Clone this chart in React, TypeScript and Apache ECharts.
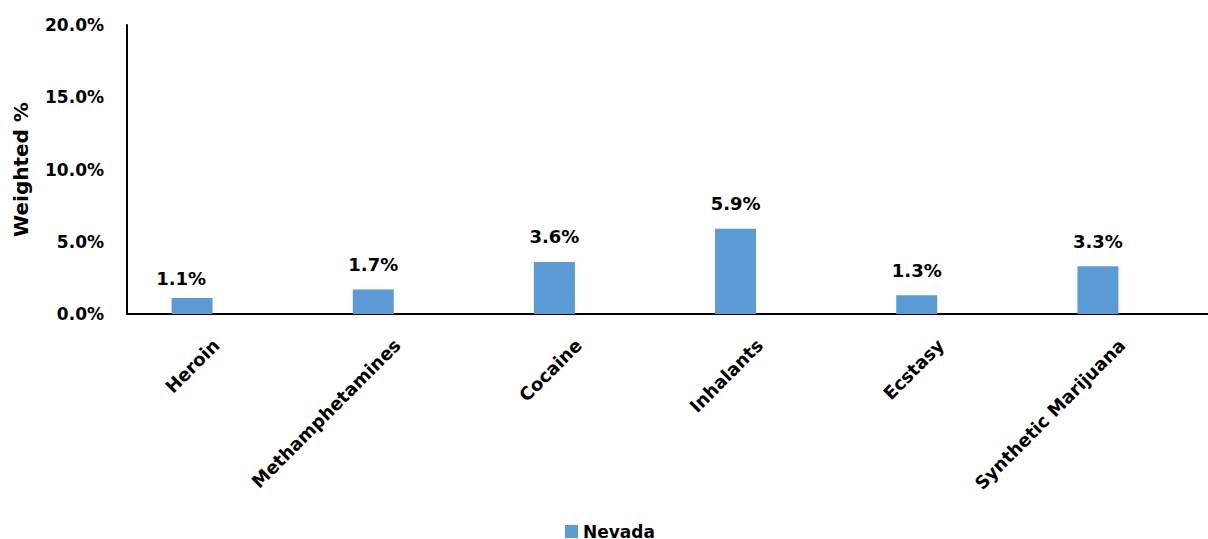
import React, { useEffect, useRef } from "react";
import * as echarts from "echarts";

const categories = ["Heroin", "Methamphetamines", "Cocaine", "Inhalants", "Ecstasy", "Synthetic Marijuana"];
const nevada = [0.011, 0.017, 0.036, 0.059, 0.013, 0.033];
const seriesName = "Nevada";
const yMin = 0;
const yMax = 0.2;
const yInterval = 0.05;

const FONT = "DejaVu Sans";

export default function App() {
  const ref = useRef<HTMLDivElement>(null);
  useEffect(() => {
    if (!ref.current) return;
    const chart = echarts.init(ref.current, null, { renderer: "svg" });
    const pct = (v: number) => (v * 100).toFixed(1) + "%";
    const barData = nevada.map((v, i) =>
      i === 0 ? { value: v, label: { offset: [-11, 5] } } : { value: v }
    );
    chart.setOption({
      animation: false,
      backgroundColor: "#ffffff",
      textStyle: { fontFamily: FONT },
      grid: [
        { left: 101.5, right: 19.5, top: 25, bottom: 225, containLabel: false, outerBoundsMode: "none" },
        { left: 127, right: 0, top: 25, bottom: 225, containLabel: false, outerBoundsMode: "none" },
      ],
      legend: {
        show: true,
        data: [seriesName],
        left: 565,
        top: 523,
        padding: 0,
        itemWidth: 13,
        itemHeight: 13,
        itemGap: 6,
        icon: "rect",
        textStyle: { fontFamily: FONT, fontWeight: "bold", fontSize: 17, color: "#000" },
      },
      xAxis: [
        {
          type: "category",
          gridIndex: 0,
          data: categories,
          axisLine: { show: false },
          axisTick: { show: false },
          splitLine: { show: false },
          axisLabel: {
            interval: 0,
            rotate: 45,
            margin: 4,
            verticalAlign: "top",
            lineHeight: 68,
            fontFamily: FONT,
            fontWeight: "bold",
            fontSize: 18,
            color: "#000",
          },
        },
        {
          type: "value",
          gridIndex: 1,
          min: 0,
          max: 1,
          axisLine: { show: true, onZero: false, lineStyle: { color: "#000", width: 2 } },
          axisTick: { show: false },
          axisLabel: { show: false },
          splitLine: { show: false },
        },
      ],
      yAxis: [
        {
          type: "value",
          gridIndex: 0,
          min: yMin,
          max: yMax,
          interval: yInterval,
          show: false,
          splitLine: { show: false },
        },
        {
          type: "value",
          gridIndex: 1,
          min: yMin,
          max: yMax,
          interval: yInterval,
          name: "Weighted %",
          nameLocation: "middle",
          nameGap: 96,
          nameTextStyle: { fontFamily: FONT, fontWeight: "bold", fontSize: 20, color: "#000" },
          axisLine: { show: true, lineStyle: { color: "#000", width: 2 } },
          axisTick: { show: false },
          splitLine: { show: false },
          axisLabel: {
            margin: 23,
            formatter: pct,
            fontFamily: FONT,
            fontWeight: "bold",
            fontSize: 17,
            color: "#000",
          },
        },
      ],
      series: [
        {
          name: seriesName,
          type: "bar",
          xAxisIndex: 0,
          yAxisIndex: 0,
          data: barData,
          barWidth: 41,
          itemStyle: { color: "#5B9BD5" },
          label: {
            show: true,
            position: "top",
            distance: 16,
            formatter: (p: any) => pct(p.value),
            fontFamily: FONT,
            fontWeight: "bold",
            fontSize: 18,
            color: "#000",
          },
        },
      ],
    });
    return () => chart.dispose();
  }, []);
  return <div ref={ref} style={{ position: "fixed", left: 0, top: 0, width: 1208, height: 539 }} />;
}
